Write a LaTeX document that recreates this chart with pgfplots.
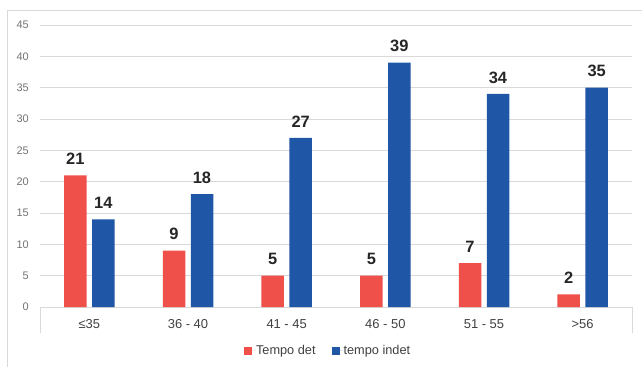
\documentclass[border=0pt]{standalone}
\usepackage{pgfplots}
\pgfplotsset{compat=1.18}
\usepackage{fontspec}
\setmainfont{Liberation Sans}

\definecolor{detred}{HTML}{F0504A}
\definecolor{indblue}{HTML}{1F56A6}
\definecolor{gridgray}{HTML}{D9D9D9}
\definecolor{ticktext}{HTML}{737373}
\definecolor{cattext}{HTML}{404040}
\definecolor{valtext}{HTML}{262626}
\definecolor{framegray}{HTML}{D9D9D9}

\begin{document}
\begin{tikzpicture}
% chart area frame
\draw[framegray, line width=0.8bp] (7bp,-5bp) -- (7bp,357bp) -- (650bp,357bp);

\begin{axis}[
  at={(40bp,60bp)}, anchor=south west,
  scale only axis, width=592bp, height=282bp,
  ybar, bar width=22.5bp,
  xmin=-0.5, xmax=5.5, ymin=0, ymax=45,
  xtick={0,1,2,3,4,5},
  xticklabels={≤35, 36 - 40, 41 - 45, 46 - 50, 51 - 55, >56},
  ytick={0,5,...,45},
  major tick length=0pt,
  axis line style={draw=none},
  ymajorgrids, grid style={gridgray, line width=0.8bp},
  /pgf/number format/assume math mode=true,
  yticklabel style={anchor=east, inner sep=0pt, xshift=-11bp,
    font=\fontsize{11}{11}\selectfont, text=ticktext},
  xticklabel style={anchor=north, inner sep=0pt, yshift=-12bp,
    font=\fontsize{13}{13}\selectfont, text=cattext},
  nodes near coords,
  every node near coord/.append style={anchor=south, inner sep=0pt, yshift=10.5bp,
    font=\bfseries\fontsize{16.5}{16.5}\selectfont, text=valtext},
  legend columns=2,
  legend style={at={(0.485,-0.156)}, anchor=center, draw=none, fill=none,
    font=\fontsize{12.8}{12.8}\selectfont, text=cattext,
    nodes={inner sep=0pt}, column sep=0pt},
  clip=false,
]
\addplot[fill=detred, draw=none, bar shift=-14bp,
  legend image code/.code={\fill[detred] (0bp,-4bp) rectangle (8bp,4bp);
    \path (0bp,0bp) -- (12bp,0bp);}]
  coordinates {(0,21) (1,9) (2,5) (3,5) (4,7) (5,2)};
\addplot[fill=indblue, draw=none, bar shift=14bp,
  legend image code/.code={\fill[indblue] (0bp,-4bp) rectangle (8bp,4bp);
    \path (0bp,0bp) -- (12bp,0bp);}]
  coordinates {(0,14) (1,18) (2,27) (3,39) (4,34) (5,35)};
\legend{Tempo det\rule{16bp}{0pt}, tempo indet}
% category axis box edges
\draw[gridgray, line width=0.8bp] (rel axis cs:0,0) -- ++(0bp,-26bp);
\draw[gridgray, line width=0.8bp] (rel axis cs:1,0) -- ++(0bp,-26bp);
\end{axis}
\pgfresetboundingbox
\path (0,0) rectangle (642bp,367bp);
\end{tikzpicture}
\end{document}
